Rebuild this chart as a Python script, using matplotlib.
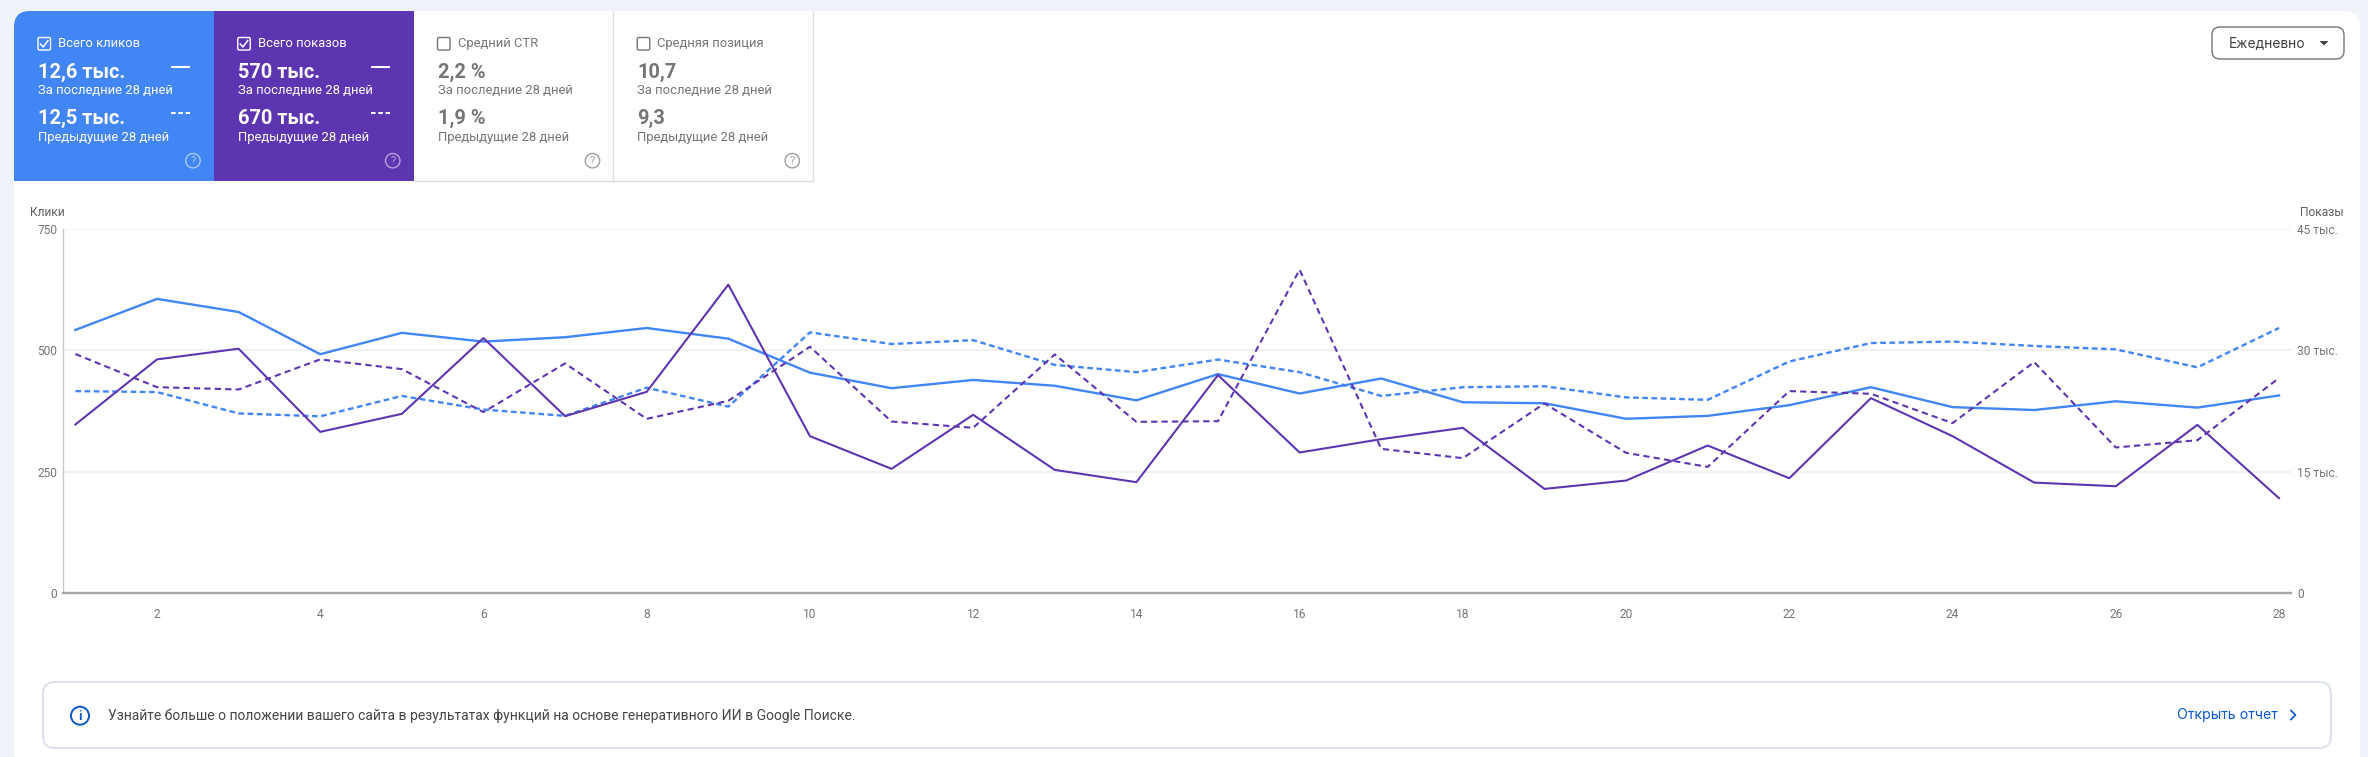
import matplotlib
matplotlib.use("Agg")
import matplotlib.pyplot as plt
from matplotlib.patches import FancyBboxPatch, Rectangle, Circle, Polygon

plt.rcParams['font.family'] = ['Roboto', 'DejaVu Sans']

# data
days = list(range(1, 29))
clicks_now = [542, 606, 579, 492, 536, 518, 527, 546, 524, 454, 422, 439, 427, 397,
              451, 411, 442, 393, 391, 359, 365, 387, 424, 383, 377, 395, 382, 407]
clicks_prev = [416, 414, 370, 364, 406, 378, 365, 423, 384, 537, 513, 521, 470, 455,
               481, 455, 406, 424, 426, 403, 398, 477, 515, 518, 509, 502, 465, 546]
shows_now = [20830, 28880, 30200, 19920, 22150, 31520, 21860, 24870, 38120, 19390,
             15350, 22030, 15220, 13700, 26940, 17370, 19020, 20420, 12870, 13900,
             18230, 14190, 24090, 19390, 13650, 13200, 20790, 11720]
shows_prev = [29540, 25450, 25160, 28880, 27680, 22360, 28380, 21530, 23760, 30440,
              21200, 20420, 29490, 21160, 21240, 39970, 17820, 16670, 23430, 17330,
              15590, 24960, 24630, 21000, 28550, 17990, 18890, 26570]

x_ticks = list(range(2, 29, 2))
left_ticks = [0, 250, 500, 750]
right_ticks = [0, 15000, 30000, 45000]
right_labels = ['0', '15 тыс.', '30 тыс.', '45 тыс.']

tile_titles = ['Всего кликов', 'Всего показов', 'Средний CTR', 'Средняя позиция']
tile_now = ['12,6 тыс.', '570 тыс.', '2,2 %', '10,7']
tile_prev = ['12,5 тыс.', '670 тыс.', '1,9 %', '9,3']

BLUE = '#4285f4'
PURPLE = '#5e35b1'
GREY = '#757575'
LINK = '#0b57d0'

W, H = 2368, 757
fig = plt.figure(figsize=(W / 100, H / 100), dpi=100, facecolor='#eff3f9')

# overlay in pixel coordinates for the page furniture
ui = fig.add_axes([0, 0, 1, 1])
ui.set_xlim(0, W)
ui.set_ylim(H, 0)
ui.axis('off')


def px(size):
    return size * 0.72


card = FancyBboxPatch((14, 11), 2346, 800, boxstyle='round,pad=0,rounding_size=16',
                      fc='white', ec='none')
ui.add_patch(card)


def draw_tile(i):
    x0 = 14 + i * 199.75
    checked = i < 2
    if checked:
        bg = BLUE if i == 0 else PURPLE
        tile = Rectangle((x0, 11), 199.75, 170, fc=bg, ec='none')
        ui.add_patch(tile)
        tile.set_clip_path(card)
        main = sub = 'white'
        head = 'white'
        box_col = 'white'
        help_col = (1, 1, 1, 0.55)
    else:
        ui.plot([x0 + 199.75] * 2, [11, 181], color='#dadce0', lw=1)
        ui.plot([x0, x0 + 199.75], [181, 181], color='#dadce0', lw=1)
        main = sub = head = GREY
        box_col = GREY
        help_col = '#9e9e9e'

    tx = x0 + 24
    box = FancyBboxPatch((tx, 37.5), 12.5, 12.5, boxstyle='round,pad=0,rounding_size=1.5',
                         fc='none', ec=box_col, lw=1)
    ui.add_patch(box)
    if checked:
        ui.plot([tx + 2.5, tx + 5.2, tx + 10], [44, 47, 40.5], color='white', lw=1.1)
    ui.text(tx + 20, 43.5, tile_titles[i], color=head, fontsize=px(13), va='center')
    ui.text(tx, 72, tile_now[i], color=main, fontsize=px(20), fontweight='bold', va='center')
    ui.text(tx, 91, 'За последние 28 дней', color=sub, fontsize=px(13), va='center')
    ui.text(tx, 118, tile_prev[i], color=main, fontsize=px(20), fontweight='bold', va='center')
    ui.text(tx, 137, 'Предыдущие 28 дней', color=sub, fontsize=px(13), va='center')
    if checked:
        ui.plot([x0 + 157, x0 + 176], [66.7, 66.7], color='white', lw=1.5, solid_capstyle='butt')
        ui.plot([x0 + 157, x0 + 176], [112.7, 112.7], color='white', lw=1.5,
                linestyle=(0, (2.2, 1.3)), dash_capstyle='butt')
    ui.add_patch(Circle((x0 + 179, 160.7), 7.2, fc='none', ec=help_col, lw=1))
    ui.text(x0 + 179, 161, '?', color=help_col, fontsize=px(11), ha='center', va='center')


for i in range(4):
    draw_tile(i)

# dropdown
ui.add_patch(FancyBboxPatch((2212, 27), 132, 32, boxstyle='round,pad=0,rounding_size=8',
                            fc='white', ec=GREY, lw=1))
ui.text(2229, 43, 'Ежедневно', color='#3c4043', fontsize=px(13.8), family=['Inter', 'DejaVu Sans'],
        va='center')
ui.add_patch(Polygon([[2319.5, 41], [2328.5, 41], [2324, 45.5]], fc='#444746', ec='none'))

# banner under the chart
ui.add_patch(FancyBboxPatch((43, 682), 2288, 66, boxstyle='round,pad=0,rounding_size=12',
                            fc='white', ec='#dde3ee', lw=1.5))
ui.add_patch(Circle((80, 715.7), 9, fc='none', ec=LINK, lw=1.4))
ui.text(80, 716, 'i', color=LINK, fontsize=px(13), fontweight='bold', ha='center', va='center')
ui.text(108.5, 716, 'Узнайте больше о положении вашего сайта в результатах функций '
        'на основе генеративного ИИ в Google Поиске.', color='#444746', fontsize=px(13.95),
        va='center')
ui.text(2177, 715, 'Открыть отчет', color=LINK, fontsize=px(14.1), family=['Inter', 'DejaVu Sans'],
        va='center')
ui.plot([2291, 2295.5, 2291], [710.5, 715, 719.5], color=LINK, lw=1.2)

# chart, clicks on the left axis and impressions on the right one
ax_l, ax_r, ax_t, ax_b = 63.3, 2291, 229, 593
ax = fig.add_axes([ax_l / W, 1 - ax_b / H, (ax_r - ax_l) / W, (ax_b - ax_t) / H])
ax.patch.set_alpha(0)
ax.set_xlim(0.852, 28.147)
ax.set_ylim(0, 750)
ax.set_xticks(x_ticks)
ax.set_yticks(left_ticks)
ax.grid(axis='y', color='#f1f1f1', lw=1.4)
ax.set_axisbelow(True)
ax.tick_params(axis='both', length=0, labelsize=px(12), labelcolor=GREY)
ax.tick_params(axis='x', pad=11)
ax.tick_params(axis='y', pad=4.5)
for side in ['top', 'right']:
    ax.spines[side].set_visible(False)
ax.spines['left'].set_color('#c8c8c8')
ax.spines['left'].set_linewidth(1)
ax.spines['bottom'].set_color('#a6a6a6')
ax.spines['bottom'].set_linewidth(1.7)

ax.plot(days, clicks_now, color=BLUE, lw=1.7)
ax.plot(days, clicks_prev, color=BLUE, lw=1.7, linestyle=(0, (2.4, 1.5)))

ax2 = ax.twinx()
ax2.set_ylim(0, 45000)
ax2.set_yticks(right_ticks)
ax2.set_yticklabels(right_labels)
ax2.tick_params(axis='y', length=0, labelsize=px(12), labelcolor=GREY, pad=4.5)
for spine in ax2.spines.values():
    spine.set_visible(False)
ax2.plot(days, shows_now, color=PURPLE, lw=1.5)
ax2.plot(days, shows_prev, color=PURPLE, lw=1.5, linestyle=(0, (3, 2)))

ui.text(30, 212, 'Клики', color='#5f5f5f', fontsize=px(12), va='center')
ui.text(2344, 212, 'Показы', color='#5f5f5f', fontsize=px(12), ha='right', va='center')

fig.savefig('out.png', dpi=100, facecolor=fig.get_facecolor())
